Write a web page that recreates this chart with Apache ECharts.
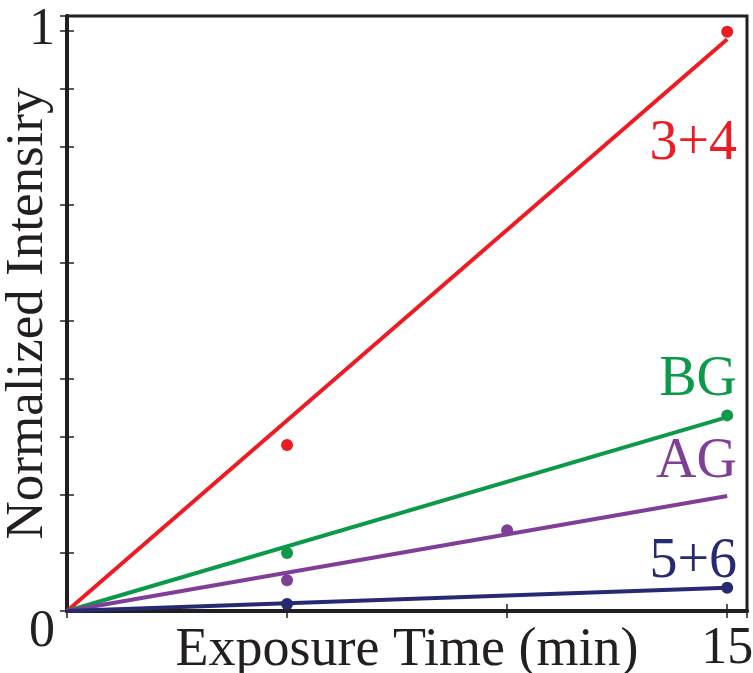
<!DOCTYPE html>
<html>
<head>
<meta charset="utf-8">
<script src="https://cdn.jsdelivr.net/npm/echarts@6/dist/echarts.min.js"></script>
<style>html,body{margin:0;padding:0;background:#fff}#c{width:753px;height:673px}</style>
</head>
<body>
<div id="c"></div>
<script>
// Series names
const seriesNames = ['3+4', 'BG', 'AG', '5+6'];
// Fitted lines (start and end points)
const line34 = [[0, 0], [15, 0.985]];
const lineBG = [[0, 0], [15, 0.334]];
const lineAG = [[0, 0], [15, 0.198]];
const line56 = [[0, 0], [15, 0.040]];
// Measured points
const pts34 = [[5, 0.286], [15, 0.998]];
const ptsBG = [[5, 0.100], [15, 0.337]];
const ptsAG = [[5, 0.053], [10, 0.139]];
const pts56 = [[5, 0.012], [15, 0.040]];
// Axis ticks
const xTickLabels = ['15'];
const yTickLabels = ['0', '1'];

const colors = ['#ed1c24', '#0c9a4a', '#7f3f98', '#262a73'];
const FONT = '"Liberation Serif", "DejaVu Serif", serif';
const INK = '#231f20';

const chart = echarts.init(document.getElementById('c'));
const lines = [line34, lineBG, lineAG, line56];
const pts = [pts34, ptsBG, ptsAG, pts56];
const series = [];
lines.forEach((d, i) => series.push({
  type: 'line', name: seriesNames[i], data: d, symbol: 'none',
  lineStyle: {color: colors[i], width: 4}, z: 3
}));
pts.forEach((d, i) => series.push({
  type: 'scatter', name: seriesNames[i] + ' pts', data: d, symbolSize: 12,
  itemStyle: {color: colors[i], opacity: 1}, z: 4
}));
// invisible series bound to the mirrored (top/right) axes so they render
series.push({type: 'scatter', data: [], xAxisIndex: 1, yAxisIndex: 1, silent: true});

const axisCommon = {
  axisLine: {show: true, lineStyle: {color: INK, width: 4}},
  axisTick: {show: true, inside: true, length: 7, lineStyle: {color: INK, width: 1.5}},
  splitLine: {show: false}
};

chart.setOption({
  animation: false,
  grid: {left: 67, right: 6, top: 16, bottom: 62, outerBoundsMode: 'none', containLabel: false,
         show: true, borderColor: INK, borderWidth: 3, backgroundColor: 'transparent'},
  xAxis: [
    Object.assign({}, axisCommon, {
      type: 'value', min: 0, max: 15.45, interval: 5, position: 'bottom',
      name: 'Exposure Time (min)', nameLocation: 'middle', nameGap: 13, nameMoveOverlap: false,
      nameTextStyle: {fontFamily: FONT, fontSize: 54, color: INK},
      axisLabel: {
        fontFamily: FONT, fontSize: 52, color: INK, margin: 12, showMaxLabel: false,
        formatter: v => xTickLabels.includes(String(v)) ? String(v) : ''
      }
    }),
    Object.assign({}, axisCommon, {
      type: 'value', min: 0, max: 15.45, interval: 5, position: 'top',
      axisLine: {show: true, lineStyle: {color: INK, width: 3}},
      axisLabel: {show: false}
    })
  ],
  yAxis: [
    Object.assign({}, axisCommon, {
      type: 'value', min: 0, max: 1.025, interval: 0.1, position: 'left',
      name: 'Normalized Intensiry', nameLocation: 'middle', nameGap: 12, nameMoveOverlap: false,
      nameTextStyle: {fontFamily: FONT, fontSize: 53, color: INK},
      axisLabel: {
        fontFamily: FONT, fontSize: 52, color: INK, margin: 12,
        formatter: v => {
          const s = String(Math.round(v * 10) / 10);
          if (!yTickLabels.includes(s)) return '';
          return s === '0' ? '{z|0}' : s;
        },
        rich: {z: {fontFamily: FONT, fontSize: 52, color: INK, padding: [42, 0, 0, 0]}}
      }
    }),
    Object.assign({}, axisCommon, {
      type: 'value', min: 0, max: 1.025, interval: 0.1, position: 'right',
      axisLine: {show: true, lineStyle: {color: INK, width: 3}},
      axisLabel: {show: false}
    })
  ],
  series: series,
  graphic: [
    {type: 'text', right: 16, top: 116, style: {text: seriesNames[0], font: '56px ' + FONT, fill: colors[0]}},
    {type: 'text', right: 16, top: 352, style: {text: seriesNames[1], font: '56px ' + FONT, fill: colors[1]}},
    {type: 'text', right: 16, top: 434, style: {text: seriesNames[2], font: '56px ' + FONT, fill: colors[2]}},
    {type: 'text', right: 16, top: 534, style: {text: seriesNames[3], font: '56px ' + FONT, fill: colors[3]}}
  ]
});
</script>
</body>
</html>
